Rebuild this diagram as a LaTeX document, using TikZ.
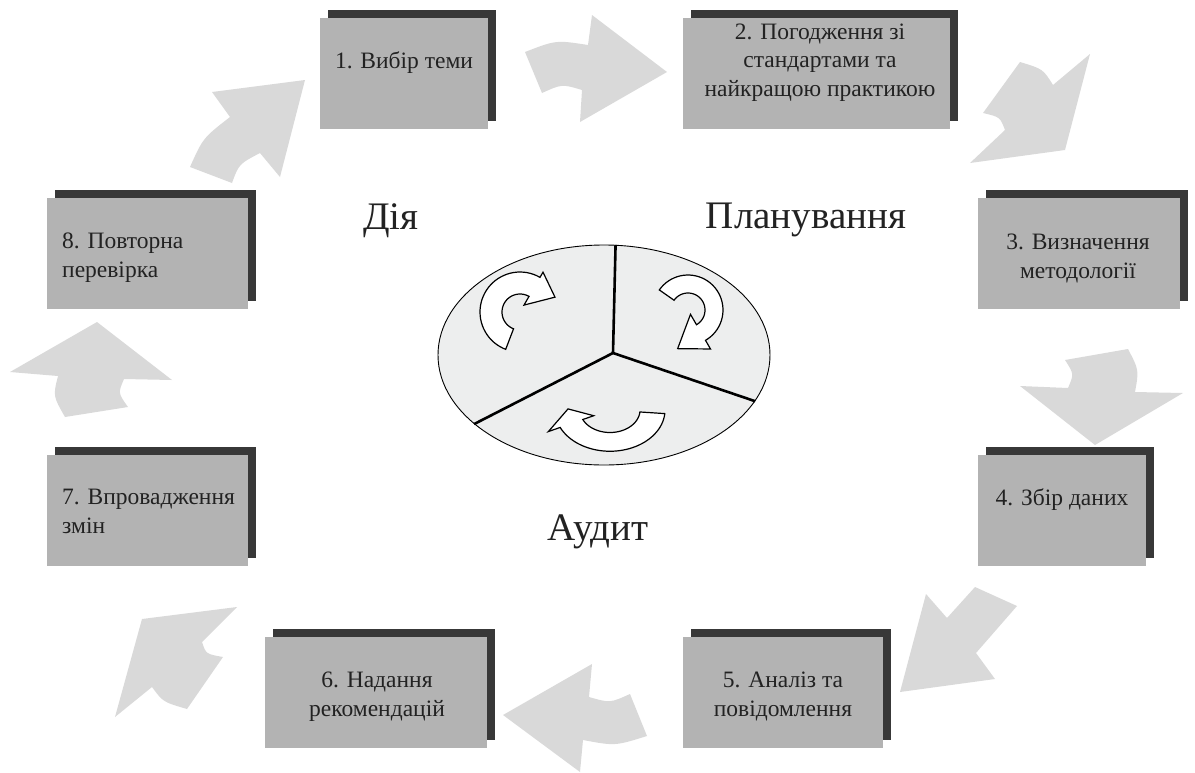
\documentclass[tikz,border=0pt]{standalone}
\usepackage{fontspec}
\setmainfont{Liberation Serif}
\usetikzlibrary{shadows,shapes.geometric}
\definecolor{flowgray}{HTML}{D9D9D9}
\definecolor{cardgray}{HTML}{B3B3B3}
\definecolor{carddark}{HTML}{383838}
\definecolor{discgray}{HTML}{EDEEEE}
\definecolor{ink}{HTML}{222222}
\begin{document}
\begin{tikzpicture}[x=1pt,y=-1pt,
 flowarrow/.style={fill=flowgray,draw=none},
 card/.style={rectangle,fill=cardgray,draw=none,inner sep=0pt,general shadow={fill=carddark,shadow xshift=8pt,shadow yshift=8pt}},
 cardtext/.style={font=\fontsize{23.5}{28.5}\selectfont,text=ink,inner sep=0pt,anchor=base},
 bigtext/.style={font=\fontsize{39}{44}\selectfont,text=ink,inner sep=0pt,anchor=base},
 cyc/.style={fill=white,draw=black,line width=1.2pt,line join=miter},
 divider/.style={draw=black,line width=2.6pt}
]
\useasboundingbox (0,0) rectangle (1195,772);

% flow arrows
\fill[flowarrow] (667,72) -- (580,122) -- (582,90) .. controls (562,84) .. (542,93) -- (525,52) .. controls (556,40) .. (588,45) -- (592,15) -- cycle;
\fill[flowarrow] (1065,150) -- (1090,54) -- (1053,85) .. controls (1043,69) .. (1020,62) -- (983,113) .. controls (1000,117) .. (1005,130) -- (970,163) -- cycle;
\fill[flowarrow] (1095,445) -- (1020,386) -- (1068,388) .. controls (1074,374) .. (1065,360) -- (1128,349) .. controls (1139,370) .. (1135,392) -- (1183,393) -- cycle;
\fill[flowarrow] (900,692) -- (926,594) -- (947,618) -- (975,587) -- (1017,606) -- (976,653) -- (995,679) -- cycle;
\fill[flowarrow] (503,715) -- (592,664) -- (589,697) .. controls (610,703) .. (630,694) -- (647,736) .. controls (615,746) .. (583,740) -- (580,772) -- cycle;
\fill[flowarrow] (142,619) -- (237,607) -- (202,642) .. controls (206,654) .. (223,657) -- (187,709) .. controls (163,702) .. (152,687) -- (115,717) -- cycle;
\fill[flowarrow] (97,322) -- (172,380) -- (124,379) .. controls (118,393) .. (128,407) -- (65,417) .. controls (53,396) .. (58,376) -- (10,372) -- cycle;
\fill[flowarrow] (305,80) -- (212,92) -- (230,117) .. controls (203,138) .. (190,167) -- (232,183) .. controls (239,164) .. (260,153) -- (280,177) -- cycle;

% cards
\node[card,minimum width=168pt,minimum height=111pt] (b1) at (404,73.5) {};
\node[card,minimum width=267pt,minimum height=111pt] (b2) at (816.5,73.5) {};
\node[card,minimum width=202pt,minimum height=111pt] (b3) at (1079,253.5) {};
\node[card,minimum width=168pt,minimum height=111pt] (b4) at (1062,510.5) {};
\node[card,minimum width=200pt,minimum height=111pt] (b5) at (783,692.5) {};
\node[card,minimum width=222pt,minimum height=111pt] (b6) at (376,692.5) {};
\node[card,minimum width=201pt,minimum height=111pt] (b7) at (147.5,510.5) {};
\node[card,minimum width=201pt,minimum height=111pt] (b8) at (147.5,253.5) {};

% card texts (base anchor = baseline of the last line)
\node[cardtext] (t1) at (404,68) {1. Вибір теми};
\node[cardtext,align=center] (t2) at (820,96) {2. Погодження зі\\стандартами та\\найкращою практикою};
\node[cardtext,align=center] (t3) at (1078,278) {3. Визначення\\методології};
\node[cardtext] (t4) at (1062,505) {4. Збір даних};
\node[cardtext,align=center] (t5) at (783,716) {5. Аналіз та\\повідомлення};
\node[cardtext,align=center] (t6) at (377,716) {6. Надання\\рекомендацій};
\node[cardtext,align=left,anchor=base west] (t7) at (62,533) {7. Впровадження\\змін};
\node[cardtext,align=left,anchor=base west] (t8) at (62,277) {8. Повторна\\перевірка};

% central disc
\node[ellipse,draw=black,line width=0.9pt,fill=discgray,minimum width=332pt,minimum height=220pt,inner sep=0pt] (disc) at (604,355) {};
\coordinate (hub) at (613,353);
\draw[divider] (hub) -- (disc.84.3);
\draw[divider] (hub) -- (disc.-17.6);
\draw[divider] (hub) -- (disc.208.2);

% cycle arrows
\begin{scope}[shift={(520,312)}]
\draw[cyc] plot[domain=111:300,samples=40] (\x:40) -- (300:46) -- (337:38) -- (300:8) -- plot[domain=300:111,samples=40] (\x:18) -- cycle;
\end{scope}
\begin{scope}[shift={(688,310)}]
\draw[cyc] plot[domain=215:420,samples=40] (\x:35) -- (420:45) -- (465:40) -- (420:5) -- plot[domain=420:215,samples=40] (\x:17) -- cycle;
\end{scope}
\begin{scope}[shift={(610,410)},yscale=0.75]
\draw[cyc] plot[domain=5:155,samples=40] (\x:55) -- (155:68) -- (182:42) -- (155:18) -- plot[domain=155:5,samples=40] (\x:30) -- cycle;
\end{scope}

% sector labels
\node[bigtext] (lda) at (391,229) {Дія};
\node[bigtext] (lplan) at (806,228) {Планування};
\node[bigtext] (laud) at (598,540) {Аудит};
\end{tikzpicture}
\end{document}
